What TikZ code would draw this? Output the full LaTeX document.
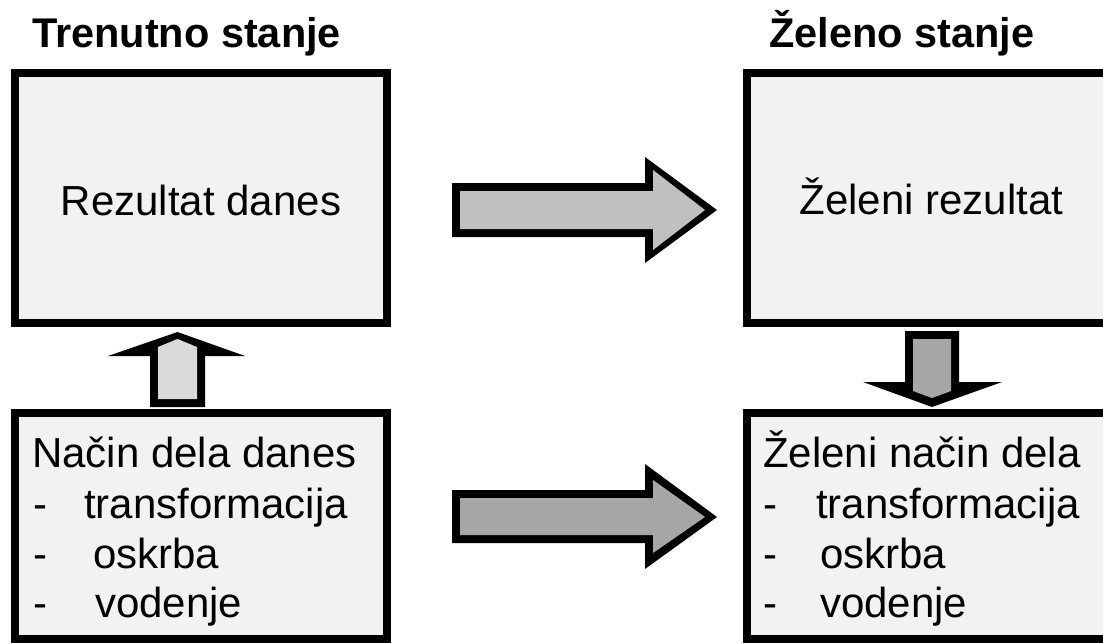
\documentclass[tikz,border=0pt]{standalone}
\usepackage{fontspec}
\setmainfont{Liberation Sans}
\definecolor{boxfill}{HTML}{F2F2F2}
\definecolor{arrowA}{HTML}{C0C0C0}
\definecolor{arrowB}{HTML}{A6A6A6}
\definecolor{arrowC}{HTML}{D9D9D9}
\begin{document}
\begin{tikzpicture}[x=1pt,y=-1pt,
  stagebox/.style={draw=black,line width=8pt,fill=boxfill,rectangle,inner sep=0pt,outer sep=0pt},
  bodytext/.style={inner sep=0pt,font=\fontsize{42}{50}\selectfont},
  titletext/.style={inner sep=0pt,font=\fontsize{41.5}{50}\selectfont\bfseries}]
\useasboundingbox (0,0) rectangle (1103,643);
\clip (0,0) rectangle (1103,643);
\fill[white] (0,0) rectangle (1103,643);
% boxes
\node[stagebox,minimum width=372pt,minimum height=250pt] (now) at (201,198) {};
\node[stagebox,minimum width=372pt,minimum height=226pt] (worknow) at (201,526) {};
\node[stagebox,minimum width=368pt,minimum height=250pt] (goal) at (931,198) {};
\node[stagebox,minimum width=368pt,minimum height=226pt] (workgoal) at (931,526) {};
% titles
\node[titletext,anchor=base] (t1) at (186.5,47) {Trenutno stanje};
\node[titletext,anchor=base] (t2) at (902,47) {Želeno stanje};
% box texts
\node[bodytext,anchor=base] (r1) at (201,215) {Rezultat danes};
\node[bodytext,anchor=base] (r2) at (931.5,214) {Želeni rezultat};
\node[bodytext,anchor=base west] (l1) at (32,467) {Način dela danes};
\node[bodytext,anchor=base west] (l2a) at (33,518) {-};
\node[bodytext,anchor=base west] (l2b) at (84,518) {transformacija};
\node[bodytext,anchor=base west] (l3a) at (33,568) {-};
\node[bodytext,anchor=base west] (l3b) at (93,568) {oskrba};
\node[bodytext,anchor=base west] (l4a) at (33,617) {-};
\node[bodytext,anchor=base west] (l4b) at (95,617) {vodenje};
\node[bodytext,anchor=base west] (g1) at (763,467) {Želeni način dela};
\node[bodytext,anchor=base west] (g2a) at (763,518) {-};
\node[bodytext,anchor=base west] (g2b) at (816,518) {transformacija};
\node[bodytext,anchor=base west] (g3a) at (763,568) {-};
\node[bodytext,anchor=base west] (g3b) at (820,568) {oskrba};
\node[bodytext,anchor=base west] (g4a) at (763,617) {-};
\node[bodytext,anchor=base west] (g4b) at (820,617) {vodenje};
% top horizontal arrow
\fill[black] (452,183) -- (645,183) -- (645,157) -- (717,210) -- (645,263) -- (645,237) -- (452,237) -- cycle;
\fill[arrowA] (460,191) -- (653,191) -- (653,170) -- (705,210) -- (653,250) -- (653,229) -- (460,229) -- cycle;
% bottom horizontal arrow
\fill[black] (452,490) -- (645,490) -- (645,464) -- (717,517) -- (645,569) -- (645,543) -- (452,543) -- cycle;
\fill[arrowB] (460,498) -- (653,498) -- (653,480) -- (705,517) -- (653,553) -- (653,535) -- (460,535) -- cycle;
% up arrow
\fill[black] (150,407) -- (150,356) -- (108,356) -- (177.5,332) -- (245,356) -- (205,356) -- (205,407) -- cycle;
\fill[arrowC] (158,399) -- (158,347) -- (177.5,339) -- (197,347) -- (197,399) -- cycle;
% down arrow
\fill[black] (905,331) -- (959,331) -- (959,382) -- (1002,382) -- (932,407) -- (863,382) -- (905,382) -- cycle;
\fill[arrowB] (913,339) -- (951,339) -- (951,391) -- (932,398) -- (913,391) -- cycle;
\end{tikzpicture}
\end{document}
